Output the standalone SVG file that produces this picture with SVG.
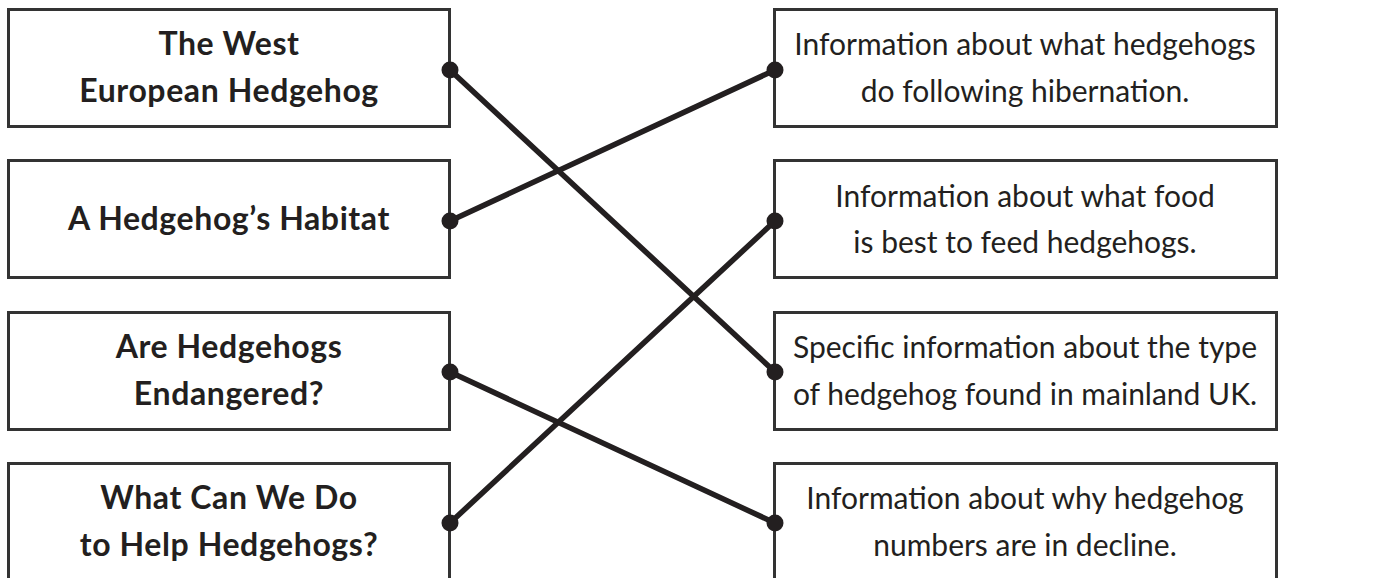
<svg xmlns="http://www.w3.org/2000/svg" width="1384" height="578" viewBox="0 0 1384 578">
<style>
.box{fill:#fff;stroke:#333;stroke-width:3}
.lt{font-family:Lato,"Open Sans",sans-serif;font-weight:bold;font-size:32px;letter-spacing:0.6px;fill:#231f20;text-anchor:middle}
.rt{font-family:Lato,"Open Sans",sans-serif;font-size:30px;fill:#231f20;text-anchor:middle}
.ln{stroke:#231f20;stroke-width:5.5;stroke-linecap:round;fill:none}
.dot{fill:#231f20}
</style>
<rect width="1384" height="578" fill="#fff"/>
<g id="left1"><rect class="box" x="8.5" y="9.5" width="441" height="117"/><text class="lt" x="229" y="55">The West</text><text class="lt" x="229" y="102">European Hedgehog</text></g>
<g id="left2"><rect class="box" x="8.5" y="160.5" width="441" height="117"/><text class="lt" x="229" y="230">A Hedgehog’s Habitat</text></g>
<g id="left3"><rect class="box" x="8.5" y="312.5" width="441" height="117"/><text class="lt" x="229" y="358">Are Hedgehogs</text><text class="lt" x="229" y="405">Endangered?</text></g>
<g id="left4"><rect class="box" x="8.5" y="463.5" width="441" height="120"/><text class="lt" x="229" y="509">What Can We Do</text><text class="lt" x="229" y="556">to Help Hedgehogs?</text></g>
<g id="right1"><rect class="box" x="774.5" y="9.5" width="502" height="117"/><text class="rt" x="1025" y="55">Information about what hedgehogs</text><text class="rt" x="1025" y="102">do following hibernation.</text></g>
<g id="right2"><rect class="box" x="774.5" y="160.5" width="502" height="117"/><text class="rt" x="1025" y="207">Information about what food</text><text class="rt" x="1025" y="253">is best to feed hedgehogs.</text></g>
<g id="right3"><rect class="box" x="774.5" y="312.5" width="502" height="117"/><text class="rt" x="1025" y="358">Specific information about the type</text><text class="rt" x="1025" y="405">of hedgehog found in mainland UK.</text></g>
<g id="right4"><rect class="box" x="774.5" y="463.5" width="502" height="120"/><text class="rt" x="1025" y="509">Information about why hedgehog</text><text class="rt" x="1025" y="556">numbers are in decline.</text></g>
<g id="connectors">
<line class="ln" x1="450" y1="70" x2="775" y2="372"/>
<line class="ln" x1="450" y1="221" x2="775" y2="70"/>
<line class="ln" x1="450" y1="372" x2="775" y2="523"/>
<line class="ln" x1="450" y1="523" x2="775" y2="221"/>
<circle class="dot" cx="450" cy="70" r="8.5"/>
<circle class="dot" cx="450" cy="221" r="8.5"/>
<circle class="dot" cx="450" cy="372" r="8.5"/>
<circle class="dot" cx="450" cy="523" r="8.5"/>
<circle class="dot" cx="775" cy="70" r="8.5"/>
<circle class="dot" cx="775" cy="221" r="8.5"/>
<circle class="dot" cx="775" cy="372" r="8.5"/>
<circle class="dot" cx="775" cy="523" r="8.5"/>
</g>
</svg>
